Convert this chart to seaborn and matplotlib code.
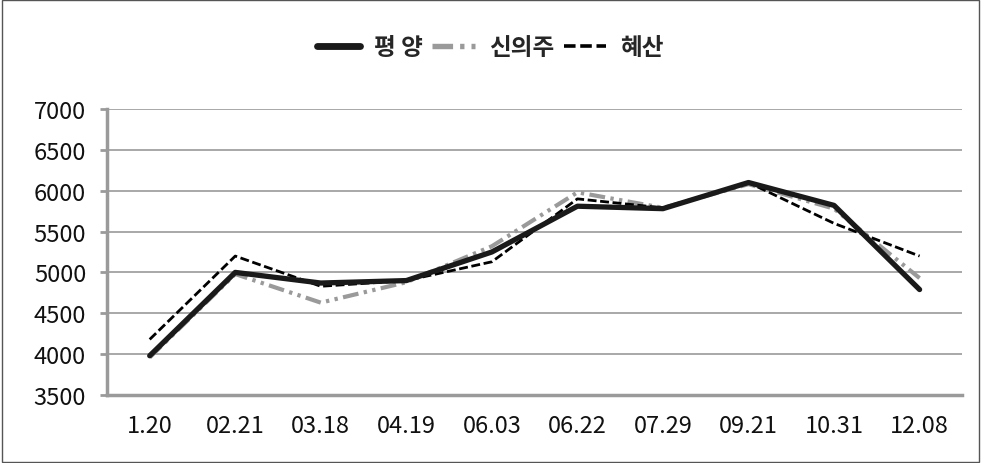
import matplotlib
matplotlib.use("Agg")
import matplotlib.pyplot as plt
import seaborn as sns
import pandas as pd
from matplotlib.patches import Rectangle

categories = ["1.20", "02.21", "03.18", "04.19", "06.03", "06.22", "07.29", "09.21", "10.31", "12.08"]
pyongyang = [3980, 5000, 4870, 4900, 5250, 5810, 5780, 6100, 5820, 4790]
sinuiju = [3960, 4980, 4630, 4880, 5320, 5980, 5790, 6080, 5780, 4930]
hyesan = [4180, 5200, 4830, 4900, 5130, 5900, 5790, 6100, 5600, 5200]
series_names = ["평 양", "신의주", "혜산"]
y_ticks = [3500, 4000, 4500, 5000, 5500, 6000, 6500, 7000]

sns.set_theme(style="white")
plt.rcParams['font.family'] = ['Noto Sans CJK KR', 'DejaVu Sans']

df = pd.DataFrame({
    "idx": list(range(len(categories))) * 3,
    "value": pyongyang + sinuiju + hyesan,
    "series": [series_names[0]] * 10 + [series_names[1]] * 10 + [series_names[2]] * 10,
})

fig = plt.figure(figsize=(9.81, 4.64), dpi=100)
ax = fig.add_axes([0.109, 0.1466, 0.872, 0.6164])

styles = {
    series_names[0]: dict(color="#1a1a1a", lw=3.8, ls="-"),
    series_names[1]: dict(color="#9a9a9a", lw=3.0, ls=(0, (3.8, 1.3, 0.8, 1.3, 0.8, 1.3))),
    series_names[2]: dict(color="#000000", lw=2.0, ls=(0, (3.2, 1.3))),
}
for name in [series_names[1], series_names[2], series_names[0]]:
    st = styles[name]
    sns.lineplot(data=df[df.series == name], x="idx", y="value", ax=ax,
                 color=st["color"], linewidth=st["lw"], linestyle=st["ls"],
                 label=name, legend=False, zorder=3)

ax.set_xlim(-0.5, len(categories) - 0.5)
ax.set_ylim(3500, 7000)
ax.set_yticks(y_ticks)
ax.set_yticklabels([str(v) for v in y_ticks], fontsize=17, fontweight="light")
ax.set_xticks(range(len(categories)))
ax.set_xticklabels(categories, fontsize=17, fontweight="light")
ax.set_xlabel("")
ax.set_ylabel("")
ax.grid(axis="y", color="#9a9a9a", linewidth=1.2)
ax.set_axisbelow(True)
for s in ["top", "right"]:
    ax.spines[s].set_visible(False)
for s in ["left", "bottom"]:
    ax.spines[s].set_color("#9a9a9a")
    ax.spines[s].set_linewidth(2.5)
ax.tick_params(axis="y", which="both", left=True, length=5, width=2, color="#9a9a9a", pad=10, labelcolor="#111111")
ax.tick_params(axis="x", bottom=False, pad=8, labelcolor="#111111")

handles = {l: h for h, l in zip(*ax.get_legend_handles_labels())}
leg = fig.legend([handles[n] for n in series_names], series_names,
                 loc="center", bbox_to_anchor=(0.5, 0.897), ncol=3, frameon=False,
                 handlelength=1.8, columnspacing=0.4, handletextpad=0.6,
                 prop={"family": ["Noto Sans CJK KR"], "weight": "bold", "size": 17})
for line in leg.get_lines():
    line.set_linewidth(line.get_linewidth() * 1.3)

fig.patches.append(Rectangle((0.002, 0.003), 0.996, 0.994, transform=fig.transFigure,
                             fill=False, edgecolor="#555555", linewidth=1))

fig.savefig("out.png", dpi=100)
